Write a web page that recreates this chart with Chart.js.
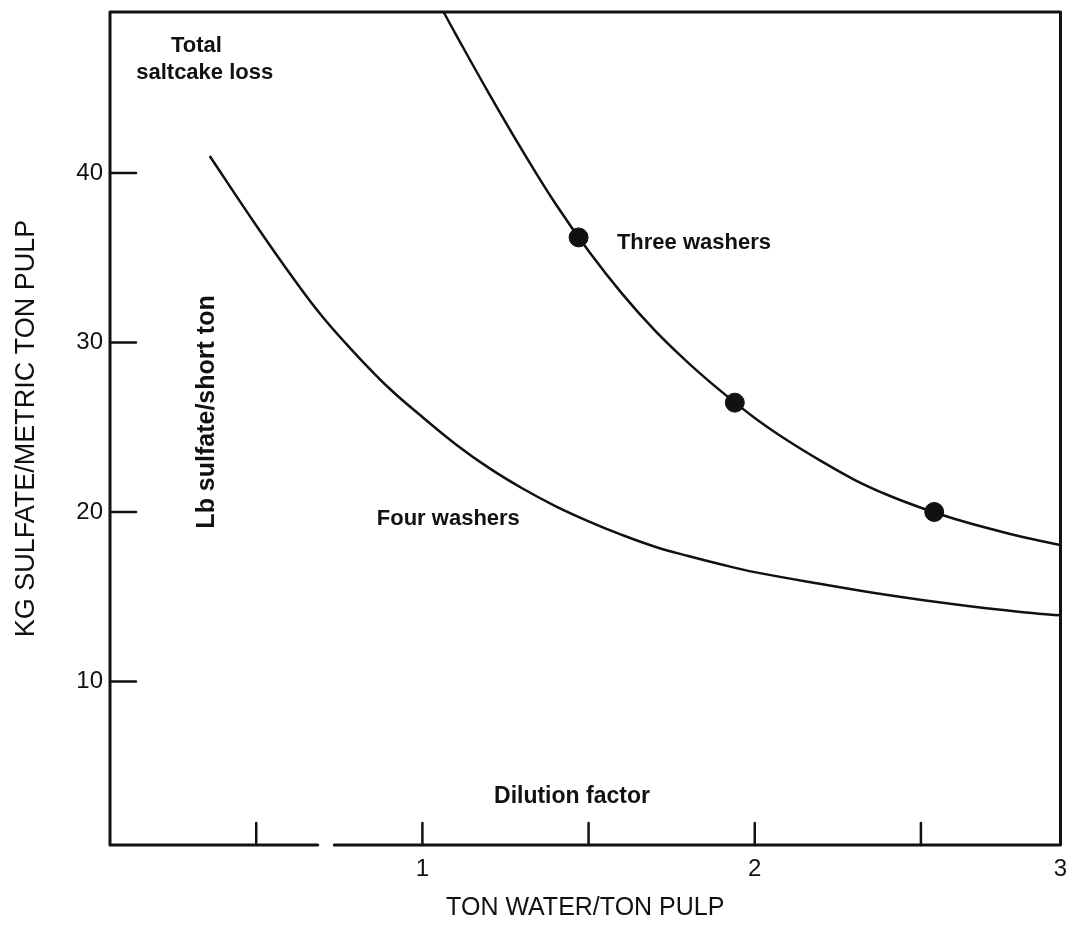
<!DOCTYPE html>
<html>
<head>
<meta charset="utf-8">
<script src="https://cdn.jsdelivr.net/npm/chart.js@4.4.1/dist/chart.umd.min.js"></script>
<style>
html, body { margin: 0; padding: 0; background: #fff; }
#wrap { width: 1071px; height: 933px; }
</style>
</head>
<body>
<div id="wrap"><canvas id="washers"></canvas></div>
<script>
// dilution factor (ton water / ton pulp) against saltcake loss (kg sulfate / metric ton pulp)
const fourX = [0.36, 0.5, 0.6, 0.7, 0.8, 0.9, 1.0, 1.1, 1.2, 1.3, 1.4, 1.5, 1.6, 1.7, 1.8, 1.9, 2.0, 2.2, 2.4, 2.6, 2.8, 2.92];
const fourY = [41.0, 36.9, 34.1, 31.5, 29.3, 27.3, 25.6, 24.0, 22.6, 21.4, 20.35, 19.45, 18.65, 17.95, 17.4, 16.9, 16.45, 15.75, 15.1, 14.55, 14.1, 13.9];

const threeX = [1.05, 1.1, 1.2, 1.3, 1.4, 1.5, 1.6, 1.7, 1.8, 1.9, 2.0, 2.1, 2.2, 2.3, 2.4, 2.5, 2.6, 2.7, 2.8, 2.92];
const threeY = [50.0, 48.2, 44.7, 41.35, 38.2, 35.4, 32.9, 30.7, 28.8, 27.1, 25.55, 24.2, 23.0, 21.9, 21.0, 20.25, 19.6, 19.05, 18.55, 18.05];

// measured points on the three washer curve
const dotX = [1.47, 1.94, 2.54];
const dotY = [36.2, 26.45, 20.0];

// axes
const X_MIN = 0.06, X_MAX = 2.92;
const Y_MIN = 0.35, Y_MAX = 49.5;
const yTickValues = [10, 20, 30, 40];
const xMarkValues = [0.5, 1, 1.5, 2, 2.5];
const xLabelValues = [1, 2, X_MAX];
const xLabelTexts = ['1', '2', '3'];

const ink = '#111';
const FONT = '"Liberation Sans", Arial, Helvetica, sans-serif';

function toPoints(xs, ys) {
    return xs.map((v, i) => ({ x: v, y: ys[i] }));
}

// text written inside the plot, anchored in data units
const notes = [
    { text: 'Total', x: 0.32, y: 47.5, size: 22 },
    { text: 'saltcake loss', x: 0.345, y: 45.9, size: 22 },
    { text: 'Lb sulfate/short ton', x: 0.351, y: 25.9, size: 25, rotate: true },
    { text: 'Four washers', x: 1.078, y: 19.6, size: 22 },
    { text: 'Three washers', x: 1.817, y: 35.9, size: 22 },
    { text: 'Dilution factor', x: 1.45, y: 3.2, size: 23 }
];

const frameAndNotes = {
    id: 'frameAndNotes',
    afterDraw(chart) {
        const { ctx, chartArea: a, scales: { x, y } } = chart;
        ctx.save();
        ctx.strokeStyle = ink;
        ctx.lineCap = 'round';
        ctx.lineJoin = 'round';

        // box round the plot, the bottom line has a small break in it
        ctx.lineWidth = 3;
        ctx.beginPath();
        ctx.moveTo(x.getPixelForValue(0.685), a.bottom);
        ctx.lineTo(a.left, a.bottom);
        ctx.lineTo(a.left, a.top);
        ctx.lineTo(a.right, a.top);
        ctx.lineTo(a.right, a.bottom);
        ctx.lineTo(x.getPixelForValue(0.735), a.bottom);
        ctx.stroke();

        // tick marks point into the plot
        ctx.lineWidth = 2.5;
        ctx.beginPath();
        yTickValues.forEach(v => {
            const py = y.getPixelForValue(v);
            ctx.moveTo(a.left, py);
            ctx.lineTo(a.left + 26, py);
        });
        xMarkValues.forEach(v => {
            const px = x.getPixelForValue(v);
            ctx.moveTo(px, a.bottom);
            ctx.lineTo(px, a.bottom - 22);
        });
        ctx.stroke();

        ctx.fillStyle = ink;
        ctx.textAlign = 'center';
        ctx.textBaseline = 'middle';
        notes.forEach(n => {
            ctx.font = 'bold ' + n.size + 'px ' + FONT;
            const px = x.getPixelForValue(n.x);
            const py = y.getPixelForValue(n.y);
            if (n.rotate) {
                ctx.save();
                ctx.translate(px, py);
                ctx.rotate(-Math.PI / 2);
                ctx.fillText(n.text, 0, 0);
                ctx.restore();
            } else {
                ctx.fillText(n.text, px, py);
            }
        });
        ctx.restore();
    }
};

const config = {
    type: 'scatter',
    data: {
        datasets: [
            {
                label: 'Measured',
                data: toPoints(dotX, dotY),
                showLine: false,
                pointRadius: 9.5,
                pointBackgroundColor: ink,
                pointBorderColor: ink,
                order: 0
            },
            {
                label: 'Three washers',
                data: toPoints(threeX, threeY),
                showLine: true,
                borderColor: ink,
                borderWidth: 2.5,
                pointRadius: 0,
                tension: 0.4,
                order: 1
            },
            {
                label: 'Four washers',
                data: toPoints(fourX, fourY),
                showLine: true,
                borderColor: ink,
                borderWidth: 2.5,
                pointRadius: 0,
                tension: 0.4,
                order: 1
            }
        ]
    },
    options: {
        responsive: true,
        maintainAspectRatio: false,
        animation: false,
        layout: { padding: { left: 0, top: 12, right: 9, bottom: 0 } },
        plugins: {
            legend: { display: false },
            tooltip: { enabled: false }
        },
        scales: {
            x: {
                type: 'linear',
                min: X_MIN,
                max: X_MAX,
                grid: { display: false, drawTicks: false },
                border: { display: false },
                afterBuildTicks: s => { s.ticks = xLabelValues.map(v => ({ value: v })); },
                afterFit: s => {
                    s.height = 88;
                    s.paddingLeft = 0;
                    s.paddingRight = 0;
                },
                ticks: {
                    autoSkip: false,
                    maxRotation: 0,
                    padding: 10,
                    color: ink,
                    font: { family: FONT, size: 24 },
                    callback: v => xLabelTexts[xLabelValues.indexOf(v)]
                },
                title: {
                    display: true,
                    text: 'TON WATER/TON PULP',
                    color: ink,
                    font: { family: FONT, size: 25 },
                    padding: { top: 0, bottom: 10 }
                }
            },
            y: {
                type: 'linear',
                min: Y_MIN,
                max: Y_MAX,
                grid: { display: false, drawTicks: false },
                border: { display: false },
                afterBuildTicks: s => { s.ticks = yTickValues.map(v => ({ value: v })); },
                afterFit: s => {
                    s.width = 110;
                    s.paddingTop = 0;
                    s.paddingBottom = 0;
                },
                ticks: {
                    padding: 7,
                    color: ink,
                    font: { family: FONT, size: 24 }
                },
                title: {
                    display: true,
                    text: 'KG SULFATE/METRIC TON PULP',
                    color: ink,
                    font: { family: FONT, size: 27 },
                    padding: { top: 10, bottom: 0 }
                }
            }
        }
    },
    plugins: [frameAndNotes]
};

const washerChart = new Chart(document.getElementById('washers'), config);
</script>
</body>
</html>
